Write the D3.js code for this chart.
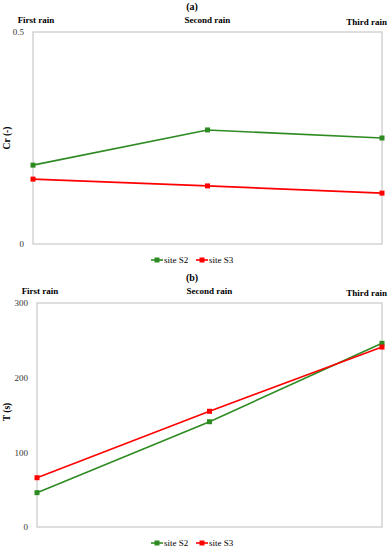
<!DOCTYPE html>
<html>
<head>
<meta charset="utf-8">
<script src="https://cdn.jsdelivr.net/npm/d3@7"></script>
<style>
  body { margin: 0; background: #fff; }
</style>
</head>
<body>
<svg id="chart" width="390" height="550"></svg>
<script>
// categories and series
const categories = ["First rain", "Second rain", "Third rain"];
const seriesNames = ["site S2", "site S3"];
const seriesColors = ["#2e8b22", "#ff0000"];

// panel (a) : Cr (-)
const crS2 = [0.186, 0.269, 0.25];
const crS3 = [0.153, 0.137, 0.12];
const crTicks = [0, 0.5];

// panel (b) : T (s)
const tS2 = [46, 141, 246];
const tS3 = [66, 155, 241];
const tTicks = [0, 100, 200, 300];

const FONT = '"Liberation Serif", "DejaVu Serif", serif';
const svg = d3.select("#chart");

function drawPanel(p) {
  const g = svg.append("g");

  const x = d3.scalePoint().domain(categories).range([p.left, p.right]);
  const y = d3.scaleLinear().domain(p.domain).range([p.bottom, p.top]);

  // titre du panneau
  g.append("text")
    .attr("x", 192)
    .attr("y", p.top - 22)
    .attr("text-anchor", "middle")
    .style("font-family", FONT)
    .style("font-size", "10px")
    .style("font-weight", "bold")
    .text(p.title);

  // cadre gris
  g.append("rect")
    .attr("x", p.left)
    .attr("y", p.top)
    .attr("width", p.right - p.left)
    .attr("height", p.bottom - p.top)
    .attr("fill", "none")
    .attr("stroke", "#c8c8c8")
    .attr("stroke-width", 1.2);

  // axe y
  const yAxis = g.append("g")
    .attr("transform", `translate(${p.left},0)`)
    .call(d3.axisLeft(y).tickValues(p.ticks).tickSize(0).tickPadding(9).tickFormat(d3.format("")));
  yAxis.select(".domain").remove();
  yAxis.selectAll("text")
    .style("font-family", FONT)
    .style("font-size", "9px")
    .attr("fill", "#333");

  // titre axe y
  g.append("text")
    .attr("transform", `translate(10,${p.yLabelY}) rotate(-90)`)
    .attr("text-anchor", "middle")
    .style("font-family", FONT)
    .style("font-size", "9.5px")
    .style("font-weight", "bold")
    .text(p.yLabel);

  // étiquettes des catégories au dessus
  categories.forEach((c, i) => {
    const last = i === categories.length - 1;
    g.append("text")
      .attr("x", last ? 387 : x(c) + (i === 0 ? 3 : 0))
      .attr("y", p.top - 9 + (last ? 2 : 0))
      .attr("text-anchor", last ? "end" : "middle")
      .style("font-family", FONT)
      .style("font-size", "9px")
      .style("font-weight", "bold")
      .text(c);
  });

  // séries
  p.series.forEach((vals, k) => {
    const pts = vals.map((v, i) => [x(categories[i]), y(v)]);
    g.append("path")
      .attr("d", d3.line()(pts))
      .attr("fill", "none")
      .attr("stroke", seriesColors[k])
      .attr("stroke-width", 1.6);
    g.selectAll(null)
      .data(pts)
      .enter()
      .append("rect")
      .attr("x", (d) => d[0] - 2.5)
      .attr("y", (d) => d[1] - 2.5)
      .attr("width", 5)
      .attr("height", 5)
      .attr("fill", seriesColors[k]);
  });

  // légende
  const leg = g.append("g").attr("transform", `translate(0,${p.legendY})`);
  const legX = [151, 196];
  seriesNames.forEach((n, k) => {
    leg.append("line")
      .attr("x1", legX[k]).attr("x2", legX[k] + 12)
      .attr("y1", 0).attr("y2", 0)
      .attr("stroke", seriesColors[k])
      .attr("stroke-width", 1.6);
    leg.append("rect")
      .attr("x", legX[k] + 3.5).attr("y", -2.5)
      .attr("width", 5).attr("height", 5)
      .attr("fill", seriesColors[k]);
    leg.append("text")
      .attr("x", legX[k] + 13)
      .attr("y", 3)
      .style("font-family", FONT)
      .style("font-size", "9px")
      .text(n);
  });
}

drawPanel({
  title: "(a)", top: 32, bottom: 244, left: 33, right: 382,
  domain: [0, 0.5], ticks: crTicks, yLabel: "Cr (-)", yLabelY: 138,
  series: [crS2, crS3], legendY: 260
});

drawPanel({
  title: "(b)", top: 303, bottom: 527, left: 37, right: 382,
  domain: [0, 300], ticks: tTicks, yLabel: "T (s)", yLabelY: 412,
  series: [tS2, tS3], legendY: 543
});
</script>
</body>
</html>
